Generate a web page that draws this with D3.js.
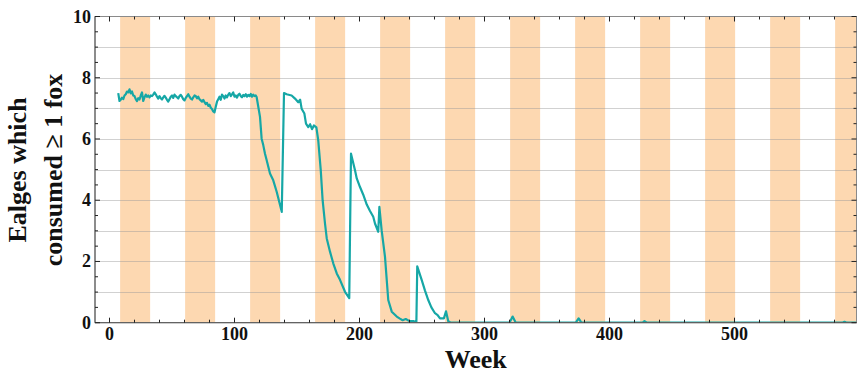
<!DOCTYPE html>
<html lang="en">
<head>
  <meta charset="UTF-8">
  <title>Eagles which consumed at least one fox</title>
  <script src="https://d3js.org/d3.v7.min.js"></script>
  <style>
    body {
      margin: 0;
      background: #fff;
      font-family: "Liberation Serif", "Times New Roman", serif;
    }

    .tick-label {
      font-size: 18px;
      font-weight: bold;
      fill: #111;
    }

    .axis-title {
      font-weight: bold;
      fill: #111;
    }
  </style>
</head>
<body>
<div id="chart"></div>

<script>
  // weeks and number of eagles that consumed >= 1 fox
  var weeks = [
    7, 8, 9, 10, 11, 12, 13, 14, 15, 16, 17, 18, 19, 20, 21, 22, 23, 24, 25, 26,
    27, 28, 29, 30, 31, 32, 33, 34, 35, 36, 37, 38, 39, 40, 41, 42, 43, 44, 45, 46,
    47, 48, 49, 50, 51, 52, 53, 54, 55, 56, 57, 58, 59, 60, 61, 62, 63, 64, 65, 66,
    67, 68, 69, 70, 71, 72, 73, 74, 75, 76, 77, 78, 79, 80, 81, 82, 83, 84, 85, 86,
    87, 88, 89, 90, 91, 92, 93, 94, 95, 96, 97, 98, 99, 100, 101, 102, 103, 104, 105, 106,
    107, 108, 109, 110, 111, 112, 113, 114, 115, 116, 117, 117.7,
    120.4, 121.7, 123, 124.4, 125.8, 128.4, 131, 133.8, 137.8,
    139.6, 141.7, 145.7, 148.4, 151, 152.5, 153.7, 155.9, 157.2, 159, 160.5, 162,
    163.5, 165.5, 167, 169, 170.5, 172.4, 173.8, 176.4, 179, 181.8, 184.4, 188.4,
    191.8, 193.2, 196.4, 197.8, 200.4, 203, 205.8, 208.4, 211, 212.4, 215, 215.9,
    217.7, 220.4, 223, 225.8, 229.8, 232, 234.5, 237, 240, 243, 245.5,
    246.2, 249.8, 252.4, 255, 257.5, 260.4, 262.5, 264.4, 267.5, 269.2, 271, 273,
    320, 322.5, 325, 373, 375.3, 377.5, 426.5, 428, 430, 586, 588, 590, 598
  ];
  var eagles = [
    7.50, 7.24, 7.28, 7.35, 7.30, 7.42, 7.46, 7.55, 7.52, 7.62, 7.49, 7.55, 7.42, 7.40, 7.30, 7.24, 7.33, 7.29, 7.42, 7.52,
    7.24, 7.36, 7.45, 7.38, 7.42, 7.36, 7.42, 7.40, 7.45, 7.52, 7.46, 7.38, 7.32, 7.40, 7.33, 7.29, 7.36, 7.41, 7.35, 7.28,
    7.22, 7.30, 7.38, 7.42, 7.34, 7.45, 7.40, 7.36, 7.32, 7.40, 7.44, 7.38, 7.30, 7.26, 7.34, 7.40, 7.46, 7.38, 7.32, 7.29,
    7.36, 7.42, 7.40, 7.33, 7.38, 7.30, 7.26, 7.22, 7.28, 7.20, 7.14, 7.18, 7.08, 7.12, 7.02, 6.98, 6.90, 6.87, 7.05, 7.22,
    7.30, 7.38, 7.28, 7.45, 7.40, 7.32, 7.42, 7.36, 7.45, 7.50, 7.40, 7.46, 7.52, 7.38, 7.42, 7.35, 7.44, 7.48, 7.40, 7.36,
    7.44, 7.40, 7.46, 7.38, 7.44, 7.40, 7.47, 7.38, 7.45, 7.40, 7.42, 7.37,
    6.72, 6.01, 5.80, 5.52, 5.30, 4.87, 4.65, 4.27, 3.62,
    7.50, 7.46, 7.42, 7.32, 7.20, 7.28, 6.99, 6.83, 6.50, 6.39, 6.48, 6.32,
    6.44, 6.38, 5.95, 4.98, 4.00, 3.24, 2.75, 2.32, 1.94, 1.61, 1.40, 1.01,
    0.80, 5.52, 4.98, 4.71, 4.43, 4.18, 3.86, 3.65, 3.46, 3.24, 2.97, 3.78,
    3.02, 2.15, 0.74, 0.36, 0.20, 0.14, 0.08, 0.12, 0.05, 0.05, 0.02,
    1.84, 1.39, 1.05, 0.74, 0.50, 0.31, 0.25, 0.14, 0.14, 0.37, 0.05, 0,
    0, 0.2, 0, 0, 0.14, 0, 0, 0.05, 0, 0, 0.03, 0, 0
  ];
  // shaded periods (start week of each band, band length in weeks)
  var bandStarts = [8.5, 60.5, 112.5, 164.5, 216.5, 268.5, 320.5, 372.5, 424.5, 476.5, 528.5, 580.5];
  var bandLength = 24;
  var xTicks = [0, 100, 200, 300, 400, 500];
  var yTicks = [0, 2, 4, 6, 8, 10];

  var width = 857, height = 373;
  var margin = {left: 95, right: 856.5, top: 16.5, bottom: 322.7};

  var data = weeks.map(function(w, i) { return {week: w, value: eagles[i]}; });

  var x = d3.scaleLinear().domain([-11.6, 597.6]).range([margin.left, margin.right]);
  var y = d3.scaleLinear().domain([0, 10]).range([margin.bottom, margin.top]);

  var svg = d3.select("#chart").append("svg")
    .attr("width", width)
    .attr("height", height);

  svg.append("clipPath").attr("id", "plot-clip")
    .append("rect")
    .attr("x", margin.left).attr("y", margin.top)
    .attr("width", margin.right - margin.left).attr("height", margin.bottom - margin.top);

  var plot = svg.append("g").attr("clip-path", "url(#plot-clip)");

  // orange bands
  plot.selectAll("rect.band")
    .data(bandStarts)
    .enter().append("rect")
    .attr("class", "band")
    .attr("x", d => x(d))
    .attr("y", margin.top)
    .attr("width", d => x(d + bandLength) - x(d))
    .attr("height", margin.bottom - margin.top)
    .attr("fill", "#fdd8b1");

  // horizontal grid lines
  plot.selectAll("line.grid")
    .data(d3.range(1, 10))
    .enter().append("line")
    .attr("class", "grid")
    .attr("x1", margin.left).attr("x2", margin.right)
    .attr("y1", d => Math.round(y(d)) + 0.5)
    .attr("y2", d => Math.round(y(d)) + 0.5)
    .attr("stroke", "#999")
    .attr("stroke-opacity", 0.45)
    .attr("stroke-width", 1.2);

  var line = d3.line()
    .x(d => x(d.week))
    .y(d => y(d.value));

  plot.append("path")
    .datum(data)
    .attr("d", line)
    .attr("fill", "none")
    .attr("stroke", "#16a7a6")
    .attr("stroke-width", 2.2)
    .attr("stroke-linejoin", "round");

  // frame with inward ticks
  var frame = svg.append("g").attr("stroke-width", 1);
  frame.append("rect")
    .attr("x", margin.left).attr("y", margin.top)
    .attr("width", margin.right - margin.left).attr("height", margin.bottom - margin.top)
    .attr("fill", "none")
    .attr("stroke", "#8a8a8a");
  frame.append("line")
    .attr("x1", margin.left).attr("x2", margin.right)
    .attr("y1", margin.bottom).attr("y2", margin.bottom)
    .attr("stroke", "#555");
  frame.append("line")
    .attr("x1", margin.left).attr("x2", margin.left)
    .attr("y1", margin.top).attr("y2", margin.bottom)
    .attr("stroke", "#555");

  d3.range(0, 600, 20).forEach(function(t) {
    var len = t % 100 === 0 ? 5 : 3;
    var px = x(t);
    frame.append("line").attr("x1", px).attr("x2", px)
      .attr("y1", margin.bottom).attr("y2", margin.bottom - len).attr("stroke", "#222");
    frame.append("line").attr("x1", px).attr("x2", px)
      .attr("y1", margin.top).attr("y2", margin.top + len).attr("stroke", "#222");
  });
  d3.range(0, 10.01, 0.5).forEach(function(t) {
    var len = t % 2 === 0 ? 5 : 3;
    var py = y(t);
    frame.append("line").attr("x1", margin.left).attr("x2", margin.left + len)
      .attr("y1", py).attr("y2", py).attr("stroke", "#222");
    frame.append("line").attr("x1", margin.right).attr("x2", margin.right - len)
      .attr("y1", py).attr("y2", py).attr("stroke", "#222");
  });

  // tick labels
  svg.selectAll("text.xl")
    .data(xTicks)
    .enter().append("text")
    .attr("class", "tick-label xl")
    .attr("x", d => x(d))
    .attr("y", 340)
    .attr("text-anchor", "middle")
    .text(d => d);

  svg.selectAll("text.yl")
    .data(yTicks)
    .enter().append("text")
    .attr("class", "tick-label yl")
    .attr("x", 91)
    .attr("y", d => y(d) + 6)
    .attr("text-anchor", "end")
    .text(d => d);

  // axis titles
  svg.append("text")
    .attr("class", "axis-title")
    .attr("x", (margin.left + margin.right) / 2)
    .attr("y", 368)
    .attr("text-anchor", "middle")
    .style("font-size", "26px")
    .text("Week");

  var yTitle = svg.append("text")
    .attr("class", "axis-title")
    .attr("transform", "translate(0,170) rotate(-90)")
    .attr("text-anchor", "middle")
    .style("font-size", "26px");
  yTitle.append("tspan").attr("x", 0).attr("y", 26).text("Ealges which");
  yTitle.append("tspan").attr("x", 0).attr("y", 62).text("consumed \u2265 1 fox");
</script>
</body>
</html>
